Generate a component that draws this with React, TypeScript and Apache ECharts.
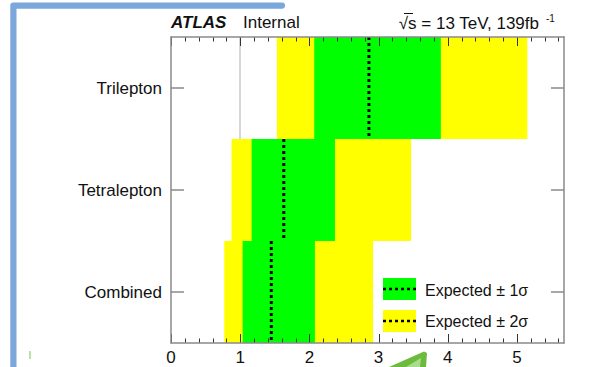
import React, { useEffect, useRef } from 'react';
import * as echarts from 'echarts';

// ---- data ----
const categories = ['Combined', 'Tetralepton', 'Trilepton'];
const expected = [1.45, 1.63, 2.86];
const minus1Sigma = [1.035, 1.165, 2.07];
const plus1Sigma = [2.08, 2.37, 3.9];
const minus2Sigma = [0.77, 0.875, 1.53];
const plus2Sigma = [2.92, 3.47, 5.15];
const referenceValue = 1;
const xMin = 0;
const xMax = 5.68;
const majorTickValues = [0, 1, 2, 3, 4, 5];
const minorTickValues = [
  0.2, 0.4, 0.6, 0.8, 1.2, 1.4, 1.6, 1.8, 2.2, 2.4, 2.6, 2.8,
  3.2, 3.4, 3.6, 3.8, 4.2, 4.4, 4.6, 4.8, 5.2, 5.4, 5.6,
];
const legendLabels = ['Expected \u00b1 1\u03c3', 'Expected \u00b1 2\u03c3'];

const FAMILY = 'Liberation Sans';
const GREEN = '#00ff00';
const YELLOW = '#ffff00';
const AXIS_COLOR = '#8a8a8a';
const TICK_COLOR = '#333333';

export default function App() {
  const ref = useRef<HTMLDivElement>(null);

  useEffect(() => {
    if (!ref.current) return;
    const chart = echarts.init(ref.current, null, { renderer: 'svg' });

    const bandData = categories.map((_, i) => [
      i,
      minus2Sigma[i],
      plus2Sigma[i],
      minus1Sigma[i],
      plus1Sigma[i],
      expected[i],
    ]);
    const tickData = [
      ...majorTickValues.map((v) => [v, 1]),
      ...minorTickValues.map((v) => [v, 0]),
    ];

    const option: any = {
      animation: false,
      grid: { left: 171, right: 49, top: 37, bottom: 24, containLabel: false },
      xAxis: [
        {
          type: 'value',
          min: xMin,
          max: xMax,
          interval: 1,
          position: 'bottom',
          z: 20,
          splitLine: { show: false },
          axisLine: { show: true, onZero: false, lineStyle: { color: AXIS_COLOR, width: 1.5 } },
          axisTick: { show: false },
          axisLabel: {
            show: true,
            margin: 6,
            fontSize: 17,
            fontFamily: FAMILY,
            color: '#111',
            formatter: (v: number) => (Math.abs(v - Math.round(v)) < 1e-6 ? String(Math.round(v)) : ''),
          },
        },
        {
          type: 'value',
          min: xMin,
          max: xMax,
          interval: 1,
          position: 'top',
          z: 20,
          splitLine: { show: false },
          axisLine: { show: true, onZero: false, lineStyle: { color: AXIS_COLOR, width: 1.5 } },
          axisTick: { show: false },
          axisLabel: { show: false },
        },
      ],
      yAxis: [
        {
          type: 'category',
          data: categories,
          position: 'left',
          z: 20,
          axisLine: { show: true, onZero: false, lineStyle: { color: AXIS_COLOR, width: 1.5 } },
          axisTick: { show: true, inside: true, length: 13, alignWithLabel: true, lineStyle: { color: AXIS_COLOR, width: 1.5 } },
          axisLabel: { show: true, margin: 9, fontSize: 17, fontFamily: FAMILY, color: '#111' },
          splitLine: { show: false },
        },
        {
          type: 'category',
          data: categories,
          position: 'right',
          z: 20,
          axisLine: { show: true, onZero: false, lineStyle: { color: AXIS_COLOR, width: 1.5 } },
          axisTick: { show: true, inside: true, length: 13, alignWithLabel: true, lineStyle: { color: AXIS_COLOR, width: 1.5 } },
          axisLabel: { show: false },
          splitLine: { show: false },
        },
      ],
      series: [
        {
          type: 'line',
          data: [],
          markLine: {
            symbol: ['none', 'none'],
            label: { show: false },
            lineStyle: { color: '#c8c8c8', width: 1.5, type: 'solid' },
            data: [{ xAxis: referenceValue }],
          },
        },
        {
          type: 'custom',
          z: 10,
          encode: { y: 0, x: [1, 2, 3, 4, 5] },
          data: bandData,
          renderItem: (_params: any, api: any) => {
            const cat = api.value(0);
            const bandH = api.size([0, 1])[1];
            const c = (v: number) => api.coord([v, cat]);
            const lo2 = c(api.value(1));
            const hi2 = c(api.value(2));
            const lo1 = c(api.value(3));
            const hi1 = c(api.value(4));
            const ex = c(api.value(5));
            const yTop = lo2[1] - bandH / 2;
            return {
              type: 'group',
              children: [
                { type: 'rect', shape: { x: lo2[0], y: yTop, width: hi2[0] - lo2[0], height: bandH }, style: { fill: YELLOW } },
                { type: 'rect', shape: { x: lo1[0], y: yTop, width: hi1[0] - lo1[0], height: bandH }, style: { fill: GREEN } },
                {
                  type: 'line',
                  shape: { x1: ex[0], y1: yTop, x2: ex[0], y2: yTop + bandH },
                  style: { stroke: '#000', lineWidth: 3, lineDash: [3, 3] },
                },
              ],
            };
          },
        },
        {
          // tick marks on top and bottom frame edges, placed through the x scale
          type: 'custom',
          z: 15,
          silent: true,
          encode: { x: 0, y: 1 },
          data: tickData,
          renderItem: (params: any, api: any) => {
            const v = api.value(0);
            const isMajor = api.value(1) === 1;
            const len = isMajor ? 9 : 4.5;
            const p = api.coord([v, 0]);
            const x = Math.round(p[0]) + 0.5;
            const cs = params.coordSys;
            const top = cs.y;
            const bottom = cs.y + cs.height;
            return {
              type: 'group',
              children: [
                { type: 'line', shape: { x1: x, y1: top, x2: x, y2: top + len }, style: { stroke: TICK_COLOR, lineWidth: 1 } },
                { type: 'line', shape: { x1: x, y1: bottom, x2: x, y2: bottom - len }, style: { stroke: TICK_COLOR, lineWidth: 1 } },
              ],
            };
          },
        },
      ],
      graphic: [
        {
          type: 'polyline',
          z: 100,
          silent: true,
          shape: { points: [[13.4, 380], [13.4, 5.6], [282, 5.6]] },
          style: { stroke: '#7ba7dc', lineWidth: 6.2, fill: null, lineJoin: 'round', lineCap: 'round' },
        },
        {
          type: 'polygon',
          z: 100,
          silent: true,
          shape: { points: [[389, 367], [424, 351.5], [427, 353], [426, 367]] },
          style: { fill: '#6cbb3c' },
        },
        {
          type: 'polygon',
          z: 101,
          silent: true,
          shape: { points: [[406, 367], [421, 358], [420, 367]] },
          style: { fill: '#a9dc8c' },
        },
        {
          type: 'rect',
          z: 100,
          silent: true,
          shape: { x: 29, y: 351, width: 2, height: 8 },
          style: { fill: '#b8e3a4' },
        },
        {
          type: 'text',
          z: 100,
          x: 171,
          y: 22,
          style: { text: 'ATLAS', fontStyle: 'italic', fontWeight: 'bold', fontSize: 17, fontFamily: FAMILY, fill: '#111', textVerticalAlign: 'middle' },
        },
        {
          type: 'text',
          z: 100,
          x: 243,
          y: 22,
          style: { text: 'Internal', fontSize: 17, fontFamily: FAMILY, fill: '#111', textVerticalAlign: 'middle' },
        },
        {
          type: 'text',
          z: 100,
          x: 539,
          y: 23,
          style: {
            text: '\u221as = 13 TeV, 139fb',
            fontSize: 17,
            fontFamily: FAMILY,
            fill: '#111',
            textAlign: 'right',
            textVerticalAlign: 'middle',
          },
        },
        {
          type: 'line',
          z: 100,
          shape: { x1: 404, y1: 13.5, x2: 413, y2: 13.5 },
          style: { stroke: '#111', lineWidth: 1 },
        },
        {
          type: 'text',
          z: 100,
          x: 546,
          y: 18,
          style: { text: '-1', fontSize: 10, fontFamily: FAMILY, fill: '#111', textVerticalAlign: 'middle' },
        },
        { type: 'rect', z: 100, shape: { x: 383, y: 278, width: 33, height: 22 }, style: { fill: GREEN } },
        {
          type: 'line',
          z: 101,
          shape: { x1: 383, y1: 289, x2: 416, y2: 289 },
          style: { stroke: '#000', lineWidth: 2.5, lineDash: [3, 3] },
        },
        {
          type: 'text',
          z: 100,
          x: 425,
          y: 290.5,
          style: { text: legendLabels[0], fontSize: 16, fontFamily: FAMILY, fill: '#111', textVerticalAlign: 'middle' },
        },
        { type: 'rect', z: 100, shape: { x: 383, y: 310, width: 33, height: 22 }, style: { fill: YELLOW } },
        {
          type: 'line',
          z: 101,
          shape: { x1: 383, y1: 321, x2: 416, y2: 321 },
          style: { stroke: '#000', lineWidth: 2.5, lineDash: [3, 3] },
        },
        {
          type: 'text',
          z: 100,
          x: 425,
          y: 321.5,
          style: { text: legendLabels[1], fontSize: 16, fontFamily: FAMILY, fill: '#111', textVerticalAlign: 'middle' },
        },
      ],
    };

    chart.setOption(option);
    return () => {
      chart.dispose();
    };
  }, []);

  return (
    <div
      ref={ref}
      style={{ position: 'absolute', left: 0, top: 0, width: 613, height: 367, background: '#fff' }}
    />
  );
}
